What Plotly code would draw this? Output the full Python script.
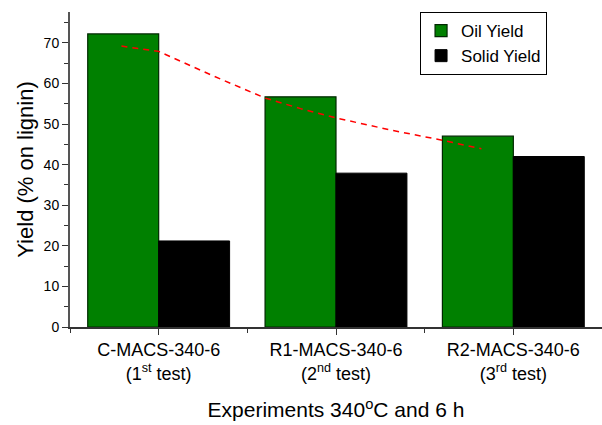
import plotly.graph_objects as go

categories = ["C-MACS-340-6<br>(1<sup>st</sup> test)",
              "R1-MACS-340-6<br>(2<sup>nd</sup> test)",
              "R2-MACS-340-6<br>(3<sup>rd</sup> test)"]
cat_pos = [0, 1, 2]
oil_yield = [72.2, 56.7, 47.0]
solid_yield = [21.2, 37.9, 42.0]

# red dashed trend line (x in category units)
trend_x = [-0.21, 0.0, 0.3, 0.6, 0.8, 1.0, 1.3, 1.6, 1.82]
trend_y = [69.2, 67.9, 62.0, 56.4, 53.8, 51.5, 48.6, 46.0, 43.9]

fig = go.Figure()
fig.add_trace(go.Bar(x=cat_pos, y=oil_yield, name="Oil Yield",
                     marker=dict(color="#008000", line=dict(color="#002800", width=1.2))))
fig.add_trace(go.Bar(x=cat_pos, y=solid_yield, name="Solid Yield",
                     marker=dict(color="#000000", line=dict(color="#000000", width=1))))
fig.add_trace(go.Scatter(x=trend_x, y=trend_y, mode="lines", showlegend=False,
                         line=dict(color="#ff0000", width=1.5, dash="6px,5px")))

fig.update_layout(
    width=602, height=425,
    margin=dict(l=70, r=0, t=12, b=98),
    paper_bgcolor="white", plot_bgcolor="white",
    barmode="group", bargap=0.2, bargroupgap=0,
    font=dict(family="Arial, Liberation Sans, sans-serif", color="black"),
    legend=dict(x=0.658, y=1.0, xanchor="left", yanchor="top",
                bordercolor="black", borderwidth=1, bgcolor="white",
                font=dict(size=17), traceorder="normal",
                tracegroupgap=0, itemwidth=30),
)
fig.update_xaxes(
    range=[-0.5, 2.5], tickmode="array", tickvals=cat_pos, ticktext=categories,
    ticks="outside", ticklen=6, tickwidth=1.2, tickcolor="#333",
    showline=True, linecolor="#333", linewidth=1.5, showgrid=False, zeroline=False,
    tickfont=dict(size=18),
    minor=dict(tickmode="array", tickvals=[-0.5, 0.5, 1.5, 2.5], ticks="outside",
               ticklen=4, tickcolor="#333", tickwidth=1.2),
    title=dict(text="Experiments 340<sup>o</sup>C and 6 h", font=dict(size=21), standoff=20),
)
fig.update_yaxes(
    range=[0, 77.6], tickmode="linear", tick0=0, dtick=10,
    ticks="outside", ticklen=6, tickwidth=1.2, tickcolor="#333",
    showline=True, linecolor="#555", linewidth=2, showgrid=False, zeroline=False,
    tickfont=dict(size=14),
    minor=dict(dtick=5, ticks="outside", ticklen=4, tickcolor="#333", tickwidth=1.2),
    title=dict(text="Yield (% on lignin)", font=dict(size=22), standoff=4),
)

fig.write_html("out.html")
